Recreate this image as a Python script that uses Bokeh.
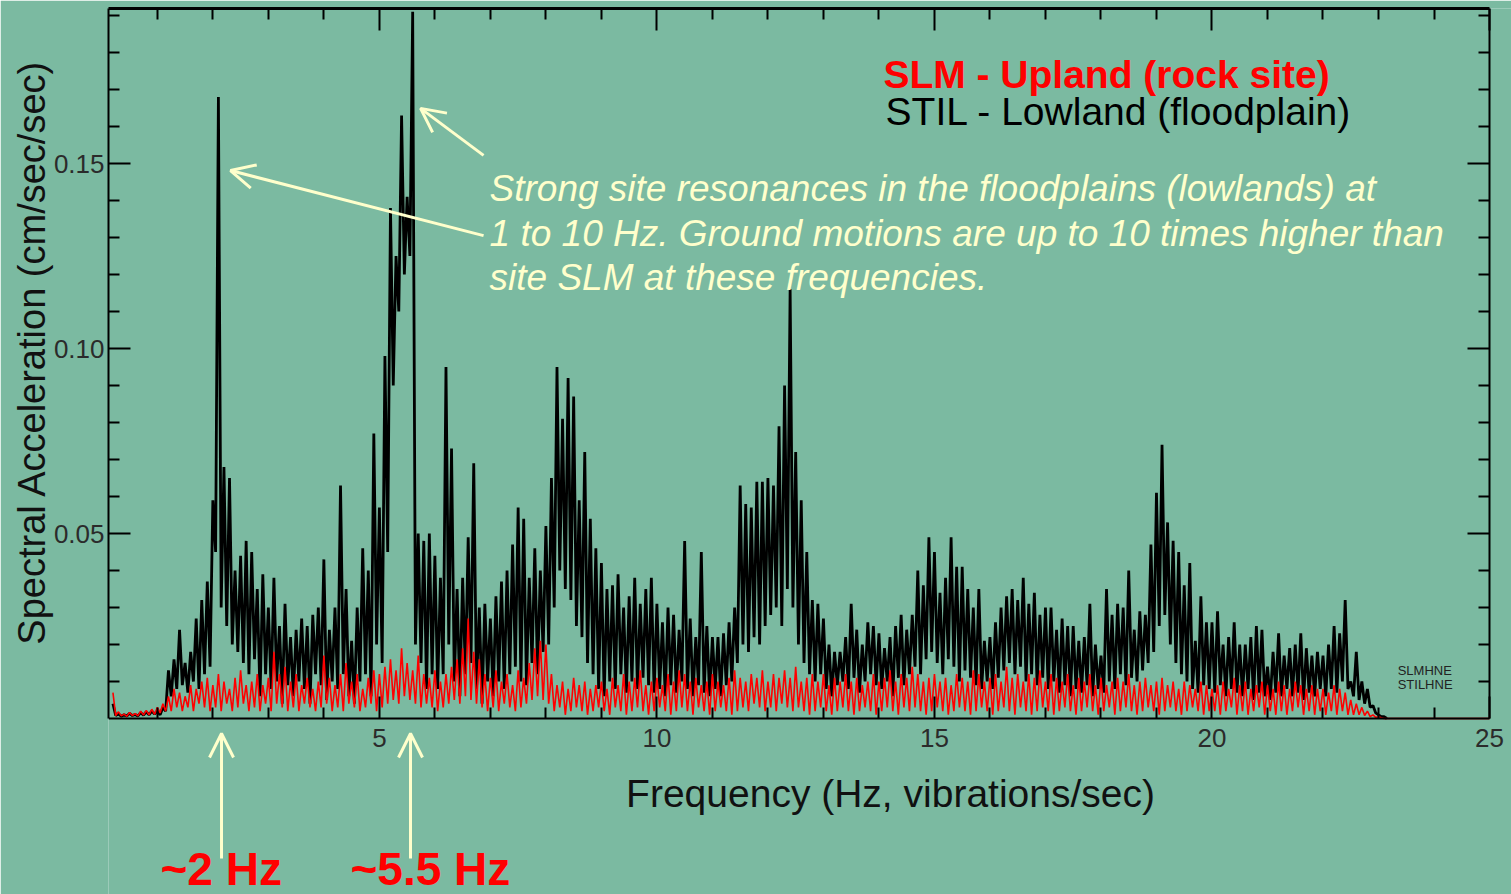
import numpy as np
from bokeh.plotting import figure
from bokeh.models import Range1d, LinearAxis, FixedTicker, PrintfTickFormatter, Label, Arrow, OpenHead
from bokeh.embed import file_html
from bokeh.resources import INLINE

# ---------------- data ----------------
FREQ_START = 0.2   # Hz, first sample
FREQ_STEP = 0.1    # Hz, spacing of the local maxima; minima lie half-way between

# STIL - Lowland (floodplain): local maxima per 0.1 Hz bin (cm/sec/sec)
stil_peak = [
    0.004, 0.0012, 0.0010, 0.0014, 0.0011, 0.0016, 0.0018, 0.0020,
    0.002, 0.003, 0.013, 0.016, 0.024, 0.015, 0.018, 0.027, 0.032, 0.037,
    0.059, 0.168, 0.068, 0.065, 0.040, 0.044, 0.048, 0.045, 0.035, 0.039,
    0.030, 0.038, 0.025, 0.031, 0.022, 0.024, 0.027, 0.025, 0.028, 0.030,
    0.043, 0.024, 0.030, 0.063, 0.035, 0.021, 0.030, 0.046, 0.040, 0.077,
    0.057, 0.098, 0.138, 0.125, 0.163, 0.141, 0.191, 0.050, 0.048, 0.050,
    0.044, 0.038, 0.095, 0.073, 0.035, 0.038, 0.049, 0.069, 0.030, 0.031,
    0.027, 0.033, 0.037, 0.040, 0.047, 0.057, 0.054, 0.038, 0.046, 0.040,
    0.052, 0.065, 0.095, 0.081, 0.092, 0.087, 0.059, 0.072, 0.054, 0.046,
    0.042, 0.035, 0.036, 0.039, 0.030, 0.033, 0.038, 0.031, 0.035, 0.038,
    0.031, 0.026, 0.030, 0.028, 0.024, 0.048, 0.027, 0.022, 0.045, 0.025,
    0.022, 0.022, 0.023, 0.026, 0.030, 0.063, 0.058, 0.057, 0.064, 0.064,
    0.065, 0.063, 0.079, 0.090, 0.116, 0.072, 0.059, 0.045, 0.032, 0.031,
    0.027, 0.020, 0.018, 0.018, 0.022, 0.031, 0.024, 0.020, 0.026, 0.025,
    0.023, 0.019, 0.022, 0.025, 0.028, 0.024, 0.028, 0.040, 0.036, 0.049,
    0.045, 0.034, 0.038, 0.049, 0.041, 0.041, 0.035, 0.030, 0.035, 0.021,
    0.022, 0.026, 0.030, 0.033, 0.035, 0.032, 0.038, 0.031, 0.034, 0.028,
    0.030, 0.030, 0.024, 0.027, 0.025, 0.025, 0.021, 0.022, 0.031, 0.020,
    0.017, 0.035, 0.028, 0.031, 0.030, 0.040, 0.024, 0.029, 0.028, 0.047,
    0.061, 0.074, 0.053, 0.048, 0.045, 0.036, 0.042, 0.021, 0.033, 0.026,
    0.026, 0.029, 0.020, 0.022, 0.026, 0.020, 0.020, 0.022, 0.025, 0.024,
    0.014, 0.018, 0.023, 0.017, 0.019, 0.020, 0.023, 0.019, 0.017, 0.018,
    0.017, 0.020, 0.025, 0.023, 0.032, 0.010, 0.018, 0.010, 0.008, 0.0035,
    0.001, 0.0005,
]
# STIL local minima (half a bin after each maximum)
stil_trough = [
    0.0008, 0.0006, 0.0007, 0.0008, 0.0007, 0.0009, 0.0010, 0.0012,
    0.001, 0.002, 0.006, 0.008, 0.009, 0.007, 0.010, 0.008, 0.012, 0.014,
    0.045, 0.030, 0.025, 0.020, 0.018, 0.015, 0.012, 0.016, 0.006, 0.012,
    0.008, 0.010, 0.004, 0.009, 0.006, 0.010, 0.008, 0.004, 0.012, 0.009,
    0.005, 0.010, 0.008, 0.012, 0.006, 0.004, 0.010, 0.012, 0.006, 0.020,
    0.015, 0.045, 0.090, 0.110, 0.120, 0.125, 0.020, 0.015, 0.008, 0.012,
    0.008, 0.012, 0.020, 0.010, 0.006, 0.012, 0.015, 0.008, 0.004, 0.010,
    0.006, 0.010, 0.008, 0.012, 0.014, 0.010, 0.009, 0.015, 0.012, 0.018,
    0.020, 0.030, 0.040, 0.035, 0.032, 0.025, 0.022, 0.015, 0.012, 0.008,
    0.006, 0.010, 0.008, 0.012, 0.007, 0.010, 0.008, 0.011, 0.009, 0.007,
    0.008, 0.006, 0.009, 0.007, 0.010, 0.008, 0.006, 0.009, 0.007, 0.006,
    0.008, 0.006, 0.009, 0.010, 0.015, 0.020, 0.018, 0.022, 0.020, 0.025,
    0.028, 0.030, 0.025, 0.035, 0.030, 0.020, 0.015, 0.012, 0.010, 0.012,
    0.008, 0.006, 0.009, 0.010, 0.008, 0.011, 0.007, 0.010, 0.012, 0.009,
    0.008, 0.010, 0.006, 0.011, 0.009, 0.012, 0.014, 0.012, 0.016, 0.018,
    0.015, 0.012, 0.016, 0.014, 0.010, 0.013, 0.011, 0.009, 0.008, 0.010,
    0.008, 0.011, 0.013, 0.015, 0.012, 0.014, 0.010, 0.012, 0.009, 0.011,
    0.008, 0.010, 0.007, 0.009, 0.006, 0.008, 0.007, 0.009, 0.006, 0.008,
    0.007, 0.010, 0.008, 0.012, 0.009, 0.011, 0.010, 0.013, 0.015, 0.018,
    0.025, 0.028, 0.020, 0.015, 0.012, 0.010, 0.008, 0.007, 0.009, 0.008,
    0.007, 0.009, 0.006, 0.008, 0.007, 0.006, 0.008, 0.005, 0.007, 0.006,
    0.005, 0.007, 0.006, 0.008, 0.006, 0.007, 0.005, 0.007, 0.006, 0.008,
    0.006, 0.008, 0.007, 0.010, 0.008, 0.006, 0.005, 0.004, 0.003, 0.0015,
    0.0005, 0.0,
]

# SLM - Upland (rock site): local maxima per 0.1 Hz bin
slm_peak = [
    0.007, 0.0018, 0.0012, 0.0016, 0.0013, 0.0020, 0.0022, 0.0025,
    0.003, 0.004, 0.006, 0.008, 0.007, 0.006, 0.009, 0.008, 0.010, 0.011,
    0.009, 0.012, 0.010, 0.008, 0.011, 0.013, 0.009, 0.010, 0.012, 0.009,
    0.011, 0.018, 0.012, 0.014, 0.010, 0.012, 0.009, 0.011, 0.008, 0.010,
    0.017, 0.011, 0.009, 0.012, 0.015, 0.010, 0.012, 0.008, 0.011, 0.013,
    0.012, 0.014, 0.016, 0.013, 0.019, 0.015, 0.013, 0.017, 0.012, 0.011,
    0.013, 0.010, 0.012, 0.014, 0.016, 0.019, 0.027, 0.018, 0.016, 0.012,
    0.011, 0.013, 0.010, 0.012, 0.009, 0.013, 0.011, 0.015, 0.019, 0.021,
    0.020, 0.012, 0.009, 0.010, 0.008, 0.011, 0.009, 0.010, 0.008, 0.009,
    0.010, 0.008, 0.011, 0.009, 0.012, 0.010, 0.011, 0.013, 0.009, 0.010,
    0.011, 0.009, 0.012, 0.010, 0.013, 0.012, 0.010, 0.011, 0.009, 0.010,
    0.012, 0.010, 0.009, 0.011, 0.013, 0.011, 0.010, 0.012, 0.011, 0.013,
    0.010, 0.012, 0.011, 0.013, 0.011, 0.014, 0.010, 0.011, 0.012, 0.010,
    0.012, 0.009, 0.011, 0.010, 0.012, 0.010, 0.011, 0.009, 0.010, 0.012,
    0.010, 0.011, 0.013, 0.010, 0.012, 0.011, 0.014, 0.012, 0.010, 0.011,
    0.012, 0.010, 0.011, 0.009, 0.012, 0.011, 0.010, 0.013, 0.012, 0.010,
    0.011, 0.012, 0.010, 0.014, 0.011, 0.012, 0.010, 0.012, 0.011, 0.013,
    0.010, 0.012, 0.011, 0.010, 0.012, 0.009, 0.011, 0.010, 0.012, 0.009,
    0.011, 0.009, 0.010, 0.011, 0.010, 0.012, 0.009, 0.010, 0.011, 0.009,
    0.010, 0.011, 0.009, 0.010, 0.008, 0.010, 0.009, 0.008, 0.010, 0.009,
    0.008, 0.009, 0.010, 0.008, 0.011, 0.009, 0.010, 0.008, 0.009, 0.010,
    0.009, 0.008, 0.010, 0.009, 0.008, 0.010, 0.009, 0.008, 0.009, 0.008,
    0.008, 0.007, 0.009, 0.008, 0.007, 0.005, 0.004, 0.003, 0.002, 0.001,
    0.0005, 0.0,
]
slm_trough = [
    0.0008, 0.0007, 0.0006, 0.0008, 0.0007, 0.0009, 0.0010, 0.0011,
    0.0015, 0.002, 0.002, 0.003, 0.002, 0.003, 0.002, 0.004, 0.003, 0.002,
    0.003, 0.002, 0.004, 0.002, 0.003, 0.004, 0.002, 0.003, 0.002, 0.004,
    0.002, 0.004, 0.003, 0.002, 0.003, 0.002, 0.004, 0.003, 0.002, 0.003,
    0.004, 0.002, 0.003, 0.002, 0.004, 0.003, 0.002, 0.003, 0.004, 0.002,
    0.003, 0.004, 0.005, 0.004, 0.006, 0.005, 0.004, 0.003, 0.004, 0.003,
    0.002, 0.003, 0.004, 0.005, 0.004, 0.006, 0.005, 0.004, 0.003, 0.002,
    0.003, 0.002, 0.004, 0.003, 0.002, 0.003, 0.004, 0.005, 0.006, 0.005,
    0.004, 0.002, 0.003, 0.001, 0.002, 0.003, 0.002, 0.001, 0.002, 0.003,
    0.002, 0.001, 0.003, 0.002, 0.001, 0.002, 0.003, 0.002, 0.001, 0.002,
    0.003, 0.002, 0.001, 0.002, 0.003, 0.002, 0.001, 0.003, 0.002, 0.001,
    0.002, 0.003, 0.002, 0.001, 0.002, 0.003, 0.002, 0.004, 0.003, 0.002,
    0.003, 0.002, 0.004, 0.003, 0.002, 0.003, 0.002, 0.001, 0.002, 0.003,
    0.002, 0.001, 0.002, 0.003, 0.002, 0.001, 0.002, 0.003, 0.002, 0.001,
    0.002, 0.003, 0.002, 0.001, 0.003, 0.002, 0.003, 0.002, 0.001, 0.002,
    0.003, 0.002, 0.001, 0.002, 0.003, 0.002, 0.001, 0.002, 0.003, 0.002,
    0.001, 0.002, 0.003, 0.002, 0.001, 0.003, 0.002, 0.001, 0.002, 0.003,
    0.002, 0.001, 0.002, 0.003, 0.002, 0.001, 0.002, 0.003, 0.002, 0.001,
    0.002, 0.003, 0.001, 0.002, 0.003, 0.002, 0.001, 0.002, 0.003, 0.002,
    0.001, 0.002, 0.003, 0.002, 0.001, 0.002, 0.003, 0.002, 0.001, 0.002,
    0.002, 0.001, 0.002, 0.003, 0.001, 0.002, 0.001, 0.002, 0.003, 0.001,
    0.002, 0.001, 0.002, 0.001, 0.002, 0.003, 0.001, 0.002, 0.001, 0.002,
    0.001, 0.002, 0.001, 0.002, 0.001, 0.001, 0.001, 0.0008, 0.0005, 0.0003,
    0.0002, 0.0,
]

x_major_ticks = [5, 10, 15, 20, 25]
x_minor_ticks = [1, 2, 3, 4, 6, 7, 8, 9, 11, 12, 13, 14, 16, 17, 18, 19, 21, 22, 23, 24]
y_major_ticks = [0.05, 0.10, 0.15]
y_minor_ticks = [0.01, 0.02, 0.03, 0.04, 0.06, 0.07, 0.08, 0.09,
                 0.11, 0.12, 0.13, 0.14, 0.16, 0.17, 0.18, 0.19]

legend_slm = "SLM - Upland (rock site)"
legend_stil = "STIL - Lowland (floodplain)"
note_lines = ["Strong site resonances in the floodplains (lowlands) at",
              "1 to 10 Hz. Ground motions are up to 10 times higher than",
              "site SLM at these frequencies."]
x_title = "Frequency (Hz, vibrations/sec)"
y_title = "Spectral Acceleration (cm/sec/sec)"
marker_2 = "~2 Hz"
marker_55 = "~5.5 Hz"
station_codes = ["SLMHNE", "STILHNE"]

# ---------------- styling ----------------
W, H = 1511, 894
BG = "#7bbaa1"
CREAM = "#ffffcc"
RED = "#ff0000"
FONT = "Liberation Sans"
X_MIN, X_MAX = 0.12, 25.0
X_VIEW_END = 25.396    # frame runs on to the canvas edge; right axis sits at 25 Hz
Y_TOP = 0.1919
Y_BOTTOM = -0.04757    # frame runs down to the canvas edge; x axis sits at y = 0


def zigzag(peaks, troughs):
    f = FREQ_START + FREQ_STEP * np.arange(len(peaks))
    x = np.empty(2 * len(f))
    y = np.empty(2 * len(f))
    x[0::2] = f
    x[1::2] = f + FREQ_STEP / 2
    y[0::2] = peaks
    y[1::2] = troughs
    return x, y


stil_x, stil_y = zigzag(stil_peak, stil_trough)
slm_x, slm_y = zigzag(slm_peak, slm_trough)
slm_x = np.append(slm_x, X_MAX)
slm_y = np.append(slm_y, 0.0)

p = figure(width=W, height=H, output_backend="svg", toolbar_location=None,
           x_range=Range1d(X_MIN, X_VIEW_END), y_range=Range1d(Y_BOTTOM, Y_TOP),
           min_border_left=108, min_border_right=0, min_border_top=8, min_border_bottom=0)
p.background_fill_color = BG
p.border_fill_color = BG
p.outline_line_color = None
p.grid.visible = False

x_ticker = FixedTicker(ticks=x_major_ticks, minor_ticks=x_minor_ticks)
y_ticker = FixedTicker(ticks=y_major_ticks, minor_ticks=y_minor_ticks)


def style_axis(ax, labels):
    ax.major_tick_in = 22
    ax.major_tick_out = 0
    ax.minor_tick_in = 11
    ax.minor_tick_out = 0
    ax.major_tick_line_width = 2
    ax.minor_tick_line_width = 2
    ax.axis_line_width = 2
    ax.axis_line_color = "black"
    ax.major_tick_line_color = "black"
    ax.minor_tick_line_color = "black"
    ax.major_label_text_font = FONT
    ax.major_label_text_color = "#2b2b2b"
    ax.major_label_text_font_size = "26px"
    if not labels:
        ax.major_label_text_font_size = "0px"
        ax.major_label_text_color = None
        ax.major_label_text_alpha = 0
        ax.major_label_standoff = 0


p.xaxis.ticker = x_ticker
p.yaxis.ticker = y_ticker
p.yaxis.formatter = PrintfTickFormatter(format="%.2f")
style_axis(p.xaxis[0], True)
style_axis(p.yaxis[0], True)
p.xaxis.fixed_location = 0.0
p.xaxis.bounds = (X_MIN, X_MAX)
p.xaxis.major_label_standoff = 11
p.yaxis.major_label_standoff = 4
p.yaxis.bounds = (0.0, Y_TOP)

top_axis = LinearAxis(ticker=x_ticker, bounds=(X_MIN, X_MAX))
style_axis(top_axis, False)
top_axis.axis_line_width = 3
p.add_layout(top_axis, "above")
right_axis = LinearAxis(ticker=y_ticker, bounds=(0.0, Y_TOP), fixed_location=X_MAX)
style_axis(right_axis, False)
p.add_layout(right_axis, "right")

# y title: one labelled position on an extra left axis
title_axis = LinearAxis(ticker=FixedTicker(ticks=[0.099], minor_ticks=[]),
                        major_label_overrides={0.099: y_title},
                        major_label_orientation="vertical",
                        major_label_text_font=FONT, major_label_text_font_size="38px",
                        major_label_text_color="#111111", major_label_standoff=-3,
                        axis_line_color=None, major_tick_line_color=None,
                        minor_tick_line_color=None, major_tick_in=0, major_tick_out=0)
p.add_layout(title_axis, "left")

p.line(stil_x, stil_y, line_color="black", line_width=2.8)
p.line(slm_x, slm_y, line_color=RED, line_width=1.6)


def label(x, y, text, size, color, style="normal", align="left"):
    p.add_layout(Label(x=x, y=y, text=text, text_font=FONT,
                       text_font_size=size, text_color=color, text_font_style=style,
                       text_align=align, text_baseline="middle"))


# positions are the vertical centres of the texts
label(14.08, 0.17405, legend_slm, "39px", RED, "bold")
label(14.12, 0.16405, legend_stil, "39px", "black")
for i, line in enumerate(note_lines):
    label(6.985, 0.14324 - i * 0.012027, line, "37px", CREAM, "italic")
label(23.345, 0.01297, station_codes[0], "13px", "#222222")
label(23.345, 0.00919, station_codes[1], "13px", "#222222")
label(14.209, -0.02027, x_title, "39px", "#111111", align="center")
label(1.057, -0.04068, marker_2, "46px", RED, "bold")
label(4.48, -0.04068, marker_55, "46px", RED, "bold")

for xs, ys, xe, ye in [(6.877, 0.1305, 2.318, 0.1481),
                       (6.877, 0.1522, 5.742, 0.1649),
                       (2.156, -0.03784, 2.156, -0.00405),
                       (5.561, -0.03784, 5.561, -0.00405)]:
    p.add_layout(Arrow(end=OpenHead(size=24, line_color=CREAM, line_width=3),
                       x_start=xs, y_start=ys, x_end=xe, y_end=ye,
                       line_color=CREAM, line_width=3))

html = file_html(p, INLINE)
html = html.replace("<body>", '<body style="background-color:%s;">' % BG, 1)
open("out.html", "w").write(html)
